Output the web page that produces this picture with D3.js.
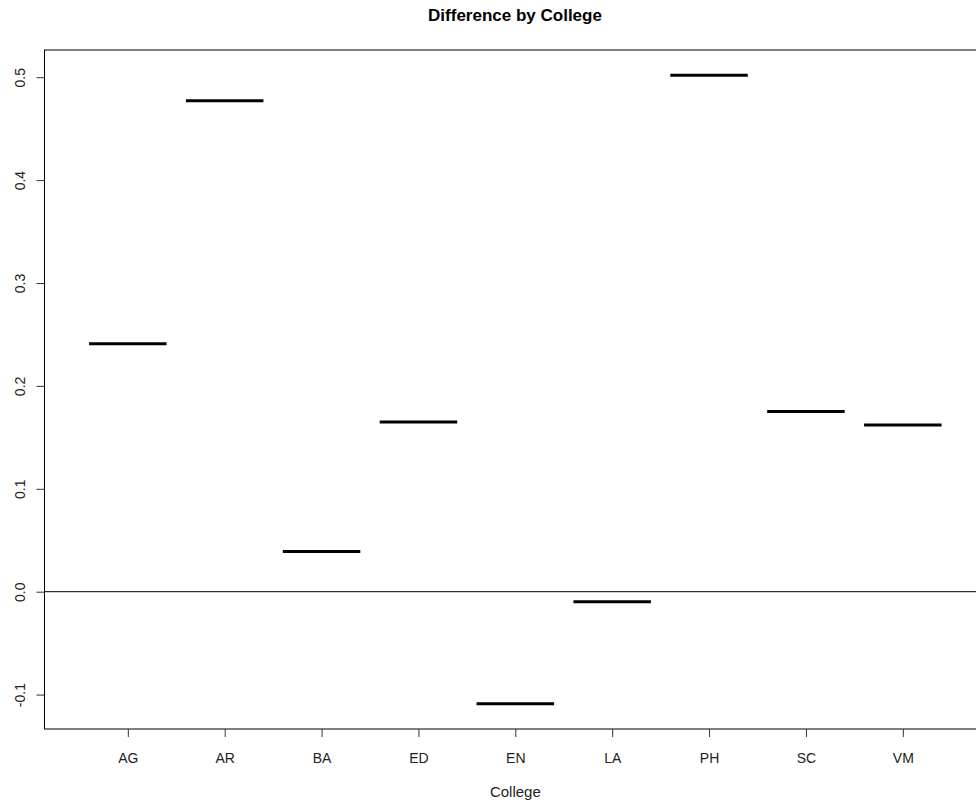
<!DOCTYPE html>
<html>
<head>
<meta charset="utf-8">
<script src="https://cdn.jsdelivr.net/npm/d3@7"></script>
<style>
  body { margin: 0; background: #fff; }
  svg { display: block; font-family: "Liberation Sans", Arial, sans-serif; }
</style>
</head>
<body>
<div id="chart"></div>
<script>
const colleges = ["AG", "AR", "BA", "ED", "EN", "LA", "PH", "SC", "VM"];
const differences = [0.241, 0.477, 0.039, 0.165, -0.109, -0.0097, 0.502, 0.175, 0.162];
const yTicks = [-0.1, 0.0, 0.1, 0.2, 0.3, 0.4, 0.5];

const width = 976;
const height = 803;

const svg = d3.select("#chart").append("svg")
  .attr("width", width)
  .attr("height", height);

// R style: 4% padding beyond data range
const yMin = d3.min(differences), yMax = d3.max(differences);
const yPad = (yMax - yMin) * 0.04;
const y = d3.scaleLinear()
  .domain([yMin - yPad, yMax + yPad])
  .range([729, 50]);

const x = d3.scaleLinear()
  .domain([0.5 - 0.36, colleges.length + 0.5 + 0.36])
  .range([44.5, 44.5 + (colleges.length + 0.72) * 96.875]);

const plotLeft = x.range()[0], plotRight = x.range()[1];
const plotTop = y.range()[1], plotBottom = y.range()[0];

// plot box
svg.append("rect")
  .attr("x", plotLeft)
  .attr("y", plotTop)
  .attr("width", plotRight - plotLeft)
  .attr("height", plotBottom - plotTop)
  .attr("fill", "none")
  .attr("stroke", "#000")
  .attr("stroke-width", 1);

// zero reference line
svg.append("line")
  .attr("x1", plotLeft).attr("x2", plotRight)
  .attr("y1", y(0)).attr("y2", y(0))
  .attr("stroke", "#000")
  .attr("stroke-width", 1);

// median segments
svg.selectAll(".median")
  .data(differences)
  .join("line")
  .attr("class", "median")
  .attr("x1", (d, i) => x(i + 1 - 0.4))
  .attr("x2", (d, i) => x(i + 1 + 0.4))
  .attr("y1", d => y(d))
  .attr("y2", d => y(d))
  .attr("stroke", "#000")
  .attr("stroke-width", 3);

const fmt = d => d3.format(".1f")(d).replace("−", "-");

// y axis
const yAxis = svg.append("g")
  .attr("transform", `translate(${plotLeft},0)`)
  .call(d3.axisLeft(y).tickValues(yTicks).tickSize(8).tickFormat(fmt));
yAxis.select(".domain").remove();
yAxis.selectAll(".tick line").attr("stroke", "#333");
yAxis.selectAll(".tick text")
  .attr("transform", "rotate(-90)")
  .attr("x", 0)
  .attr("y", -20)
  .attr("dy", 0)
  .attr("text-anchor", "middle")
  .style("font-size", "14px")
  .style("font-family", "Liberation Sans, Arial, sans-serif")
  .attr("fill", "#222");

// x axis
const xAxis = svg.append("g")
  .attr("transform", `translate(0,${plotBottom})`)
  .call(d3.axisBottom(x)
    .tickValues(d3.range(1, colleges.length + 1))
    .tickSize(8)
    .tickFormat(d => colleges[d - 1]));
xAxis.select(".domain").remove();
xAxis.selectAll(".tick line").attr("stroke", "#333");
xAxis.selectAll(".tick text")
  .attr("y", 24)
  .attr("dy", "0.71em")
  .style("font-size", "14px")
  .style("font-family", "Liberation Sans, Arial, sans-serif")
  .attr("fill", "#222");

// titles
svg.append("text")
  .attr("x", 515)
  .attr("y", 21)
  .attr("text-anchor", "middle")
  .style("font-size", "17px")
  .style("font-weight", "bold")
  .text("Difference by College");

svg.append("text")
  .attr("x", x(5))
  .attr("y", 797)
  .attr("text-anchor", "middle")
  .style("font-size", "15px")
  .attr("fill", "#222")
  .text("College");
</script>
</body>
</html>
